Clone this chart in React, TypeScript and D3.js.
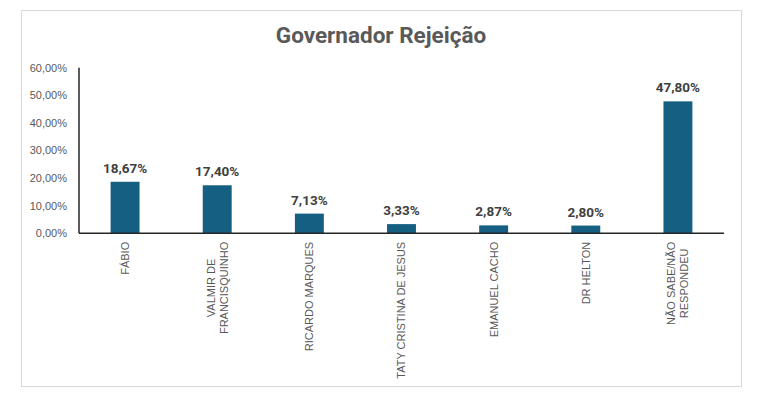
import { useRef, useEffect } from "react";
import * as d3 from "d3";

// Chart values
const categories = [
  ["FÁBIO"],
  ["VALMIR DE", "FRANCISQUINHO"],
  ["RICARDO MARQUES"],
  ["TATY CRISTINA DE JESUS"],
  ["EMANUEL CACHO"],
  ["DR HELTON"],
  ["NÃO SABE/NÃO", "RESPONDEU"],
];
const values = [18.67, 17.4, 7.13, 3.33, 2.87, 2.8, 47.8];
const yTicks = [0, 10, 20, 30, 40, 50, 60];
const title = "Governador Rejeição";

const W = 771;
const H = 415;
const FONT = "Roboto, 'Liberation Sans', Arial, sans-serif";
const FONT_SMALL = "'Liberation Sans', Arial, sans-serif";

const fmt = (v: number) => v.toFixed(2).replace(".", ",") + "%";

export default function App() {
  const ref = useRef<SVGSVGElement>(null);

  useEffect(() => {
    if (!ref.current) return;
    const svg = d3.select(ref.current);
    svg.selectAll("*").remove();

    // Chart frame
    svg
      .append("rect")
      .attr("x", 21.5)
      .attr("y", 10.5)
      .attr("width", 720)
      .attr("height", 376)
      .attr("fill", "#fff")
      .attr("stroke", "#d9d9d9");

    // Title
    svg
      .append("text")
      .attr("x", 381)
      .attr("y", 43)
      .attr("text-anchor", "middle")
      .attr("font-family", FONT)
      .attr("font-size", 22.5)
      .attr("font-weight", "bold")
      .attr("fill", "#595959")
      .text(title);

    const left = 79;
    const right = 724;
    const top = 67.7;
    const bottom = 233.3;

    const keys = categories.map((c) => c.join(" "));
    const x = d3.scaleBand().domain(keys).range([left, right]).paddingInner(0.686).paddingOuter(0.343);
    const y = d3.scaleLinear().domain([0, 60]).range([bottom, top]);

    // Y tick labels
    svg
      .append("g")
      .selectAll("text")
      .data(yTicks)
      .join("text")
      .attr("x", 67)
      .attr("y", (d) => y(d))
      .attr("dy", "0.35em")
      .attr("text-anchor", "end")
      .attr("font-family", FONT_SMALL)
      .attr("font-size", 11)
      .attr("fill", "#595959")
      .text((d) => fmt(d));

    // Bars
    svg
      .append("g")
      .selectAll("rect")
      .data(values)
      .join("rect")
      .attr("x", (_, i) => x(keys[i])!)
      .attr("y", (d) => y(d))
      .attr("width", x.bandwidth())
      .attr("height", (d) => bottom - y(d))
      .attr("fill", "#156082");

    // Data labels
    svg
      .append("g")
      .selectAll("text")
      .data(values)
      .join("text")
      .attr("x", (_, i) => x(keys[i])! + x.bandwidth() / 2)
      .attr("y", (d) => y(d) - 9)
      .attr("text-anchor", "middle")
      .attr("font-family", FONT)
      .attr("font-size", 13.5)
      .attr("font-weight", "bold")
      .attr("fill", "#404040")
      .text((d) => fmt(d));

    // Axes lines
    svg
      .append("line")
      .attr("x1", left)
      .attr("x2", left)
      .attr("y1", top)
      .attr("y2", bottom)
      .attr("stroke", "#262626")
      .attr("stroke-width", 1.5);
    svg
      .append("line")
      .attr("x1", left)
      .attr("x2", right)
      .attr("y1", bottom)
      .attr("y2", bottom)
      .attr("stroke", "#262626")
      .attr("stroke-width", 1.5);

    // Category labels, rotated
    const lineGap = 13;
    const labels = svg
      .append("g")
      .selectAll("g")
      .data(categories)
      .join("g")
      .attr("transform", (_, i) => {
        const cx = x(keys[i])! + x.bandwidth() / 2;
        return `translate(${cx},${bottom + 8.5}) rotate(-90)`;
      });

    labels.each(function (lines) {
      const g = d3.select(this);
      const n = lines.length;
      // lines centred within a block whose end sits against the axis
      const texts = lines.map((l, j) =>
        g
          .append("text")
          .attr("y", (j - (n - 1) / 2) * lineGap)
          .attr("dy", "0.35em")
          .attr("text-anchor", "middle")
          .attr("font-family", FONT_SMALL)
          .attr("font-size", 11)
          .attr("fill", "#595959")
          .text(l)
      );
      const widths = texts.map((t) => (t.node() as SVGTextElement).getComputedTextLength());
      const maxW = Math.max(...widths);
      texts.forEach((t) => t.attr("x", -maxW / 2));
    });
  }, []);

  return (
    <svg
      ref={ref}
      width={W}
      height={H}
      style={{ position: "absolute", left: 0, top: 0, background: "#fff" }}
    />
  );
}
